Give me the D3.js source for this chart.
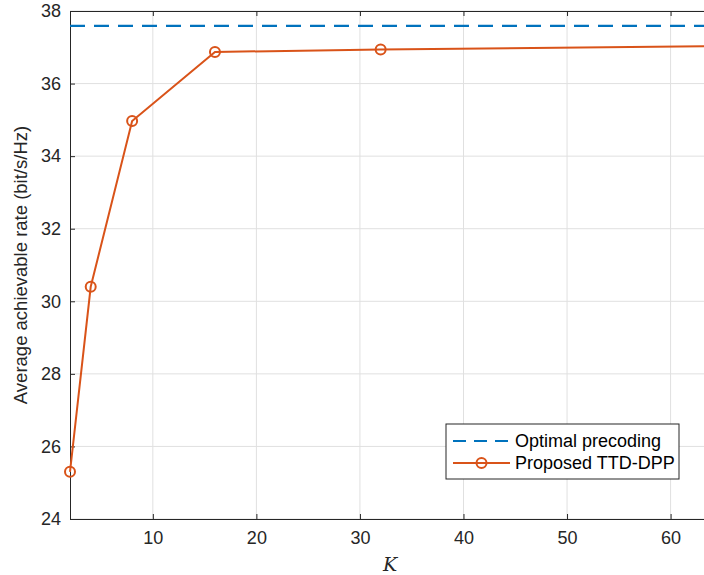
<!DOCTYPE html>
<html>
<head>
<meta charset="utf-8">
<script src="https://cdn.jsdelivr.net/npm/d3@7"></script>
<style>
  body { margin: 0; background: #fff; }
  svg { display: block; font-family: "Liberation Sans", Arial, sans-serif; }
</style>
</head>
<body>
<div id="chart"></div>
<script>
// data
const kValues = [2, 4, 8, 16, 32, 64];
const ttdRate = [25.3, 30.4, 34.97, 36.87, 36.94, 37.03];
const optimalRate = 37.59;
const xTicks = [10, 20, 30, 40, 50, 60];
const yTicks = [24, 26, 28, 30, 32, 34, 36, 38];
const seriesNames = ["Optimal precoding", "Proposed TTD-DPP"];

const width = 704, height = 575;
const margin = { top: 11, right: -8, bottom: 56, left: 70 };

const svg = d3.select("#chart").append("svg")
  .attr("width", width).attr("height", height);

const x = d3.scaleLinear().domain([2, 64]).range([margin.left, width - margin.right]);
const y = d3.scaleLinear().domain([24, 38]).range([height - margin.bottom, margin.top]);

const axisColor = "#262626";

// grid
svg.append("g").selectAll("line").data(xTicks).join("line")
  .attr("x1", d => x(d)).attr("x2", d => x(d))
  .attr("y1", y(24)).attr("y2", y(38))
  .attr("stroke", "#e0e0e0").attr("stroke-width", 1);
svg.append("g").selectAll("line").data(yTicks).join("line")
  .attr("x1", x(2)).attr("x2", x(64))
  .attr("y1", d => y(d)).attr("y2", d => y(d))
  .attr("stroke", "#e0e0e0").attr("stroke-width", 1);

// axes (ticks inward)
const xAxis = svg.append("g")
  .attr("transform", `translate(0,${y(24)})`)
  .call(d3.axisBottom(x).tickValues(xTicks).tickSize(-5).tickPadding(12).tickSizeOuter(0));
const xTop = svg.append("g")
  .attr("transform", `translate(0,${y(38)})`)
  .call(d3.axisTop(x).tickValues(xTicks).tickSize(-5).tickFormat("").tickSizeOuter(0));
const yAxis = svg.append("g")
  .attr("transform", `translate(${x(2)},0)`)
  .call(d3.axisLeft(y).tickValues(yTicks).tickSize(-5).tickPadding(9).tickSizeOuter(0));
const yRight = svg.append("g")
  .attr("transform", `translate(${x(64)},0)`)
  .call(d3.axisRight(y).tickValues(yTicks).tickSize(-5).tickFormat("").tickSizeOuter(0));

[xAxis, xTop, yAxis, yRight].forEach(g => {
  g.select(".domain").attr("stroke", axisColor).attr("stroke-width", 1);
  g.selectAll(".tick line").attr("stroke", axisColor);
  g.selectAll(".tick text").attr("fill", axisColor)
    .style("font-size", "18px").style("font-family", "Liberation Sans, Arial, sans-serif");
});

// optimal line
svg.append("line")
  .attr("x1", x(2)).attr("x2", x(64))
  .attr("y1", y(optimalRate)).attr("y2", y(optimalRate))
  .attr("stroke", "#0072bd").attr("stroke-width", 2.2)
  .attr("stroke-dasharray", "15,9");

// TTD-DPP curve
const pts = kValues.map((k, i) => ({ k, r: ttdRate[i] }));
const line = d3.line().x(d => x(d.k)).y(d => y(d.r));
const red = "#d95319";
svg.append("path").datum(pts)
  .attr("fill", "none").attr("stroke", red).attr("stroke-width", 2)
  .attr("d", line);
svg.append("g").selectAll("circle").data(pts).join("circle")
  .attr("cx", d => x(d.k)).attr("cy", d => y(d.r)).attr("r", 5)
  .attr("fill", "none").attr("stroke", red).attr("stroke-width", 2);

// axis labels
svg.append("text")
  .attr("x", 390).attr("y", 571)
  .attr("text-anchor", "middle")
  .style("font-family", "'DejaVu Serif', 'Liberation Serif', serif")
  .style("font-style", "italic").style("font-size", "19px")
  .attr("fill", axisColor)
  .text("K");
svg.append("text")
  .attr("transform", `translate(27,${(y(24) + y(38)) / 2}) rotate(-90)`)
  .attr("text-anchor", "middle")
  .style("font-size", "18.5px").attr("fill", axisColor)
  .text("Average achievable rate (bit/s/Hz)");

// legend
const lg = svg.append("g").attr("transform", "translate(446,424)");
lg.append("rect").attr("width", 233).attr("height", 55)
  .attr("fill", "#fff").attr("stroke", axisColor).attr("stroke-width", 1);
lg.append("line").attr("x1", 7).attr("x2", 64).attr("y1", 17).attr("y2", 17)
  .attr("stroke", "#0072bd").attr("stroke-width", 2.2).attr("stroke-dasharray", "13,8");
lg.append("line").attr("x1", 7).attr("x2", 64).attr("y1", 39).attr("y2", 39)
  .attr("stroke", red).attr("stroke-width", 2);
lg.append("circle").attr("cx", 35.5).attr("cy", 39).attr("r", 5)
  .attr("fill", "none").attr("stroke", red).attr("stroke-width", 2);
lg.selectAll("text.lab").data(seriesNames).join("text")
  .attr("class", "lab")
  .attr("x", 69).attr("y", (d, i) => 23 + i * 22)
  .style("font-size", "18px").attr("fill", "#000")
  .text(d => d);
</script>
</body>
</html>
